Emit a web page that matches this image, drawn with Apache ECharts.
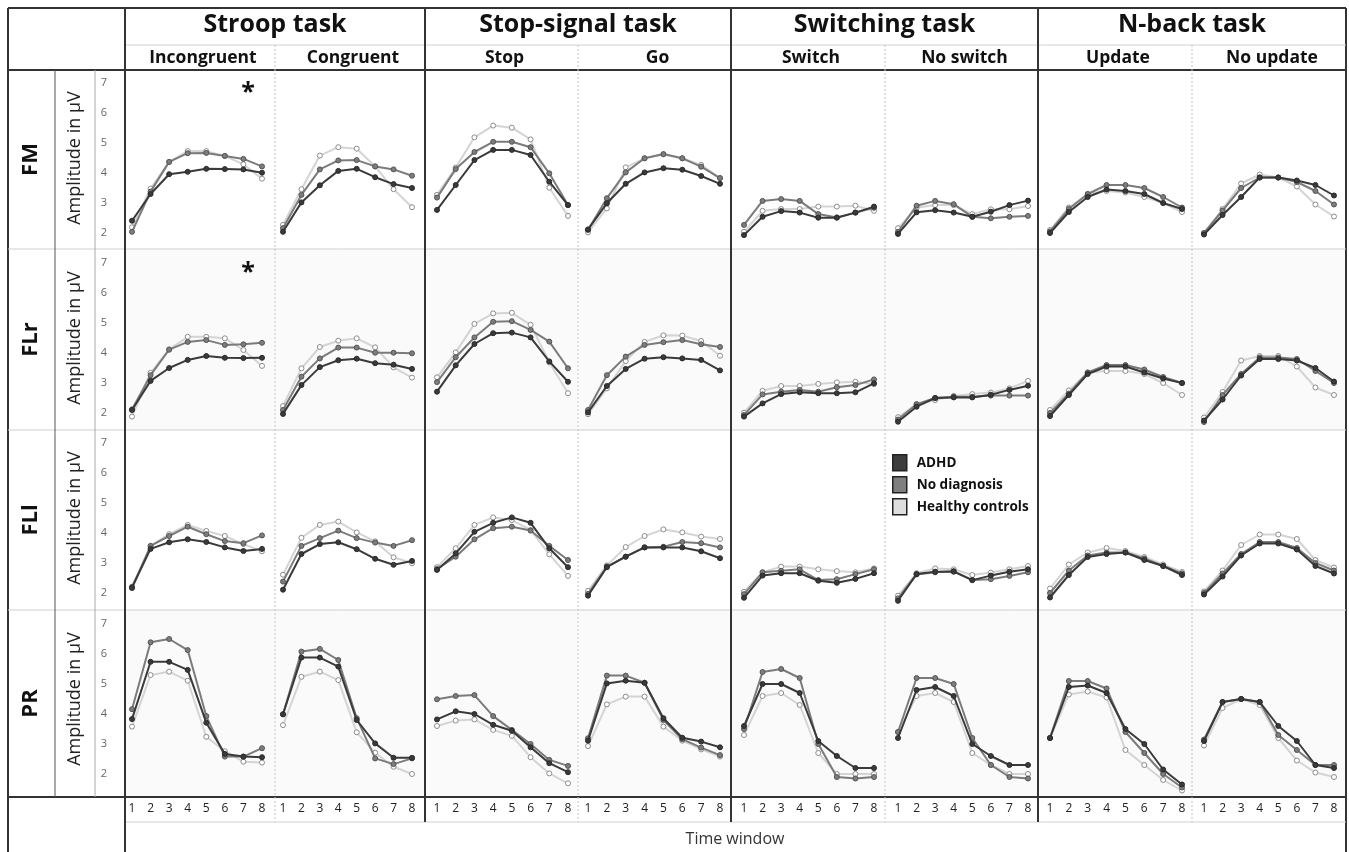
<!DOCTYPE html>
<html>
<head>
<meta charset="utf-8">
<script src="https://cdn.jsdelivr.net/npm/echarts@6/dist/echarts.min.js"></script>
<style>
  html, body { margin: 0; padding: 0; background: #fff; }
  #chart { width: 1349px; height: 852px; }
</style>
</head>
<body>
<div id="chart"></div>
<script>
  const tasks = ['Stroop task', 'Stop-signal task', 'Switching task', 'N-back task']
  const conditions = ['Incongruent', 'Congruent', 'Stop', 'Go', 'Switch', 'No switch', 'Update', 'No update']
  const regions = ['FM', 'FLr', 'FLl', 'PR']
  const groups = ['ADHD', 'No diagnosis', 'Healthy controls']
  const timeWindows = ['1', '2', '3', '4', '5', '6', '7', '8']

  // rows: FM, FLr, FLl, PR
  const incongruentAdhd = [[2.41, 3.30, 3.96, 4.04, 4.14, 4.13, 4.12, 4.01], [2.10, 3.07, 3.50, 3.77, 3.90, 3.84, 3.83, 3.84], [2.19, 3.47, 3.69, 3.79, 3.70, 3.52, 3.40, 3.47], [3.83, 5.74, 5.74, 5.47, 3.71, 2.67, 2.58, 2.56]]
  const incongruentNoDx = [[2.04, 3.38, 4.37, 4.66, 4.67, 4.57, 4.47, 4.22], [2.12, 3.26, 4.11, 4.37, 4.43, 4.27, 4.29, 4.34], [2.16, 3.57, 3.90, 4.21, 3.96, 3.73, 3.66, 3.92], [4.16, 6.39, 6.50, 6.13, 3.93, 2.58, 2.58, 2.86]]
  const incongruentHc = [[2.19, 3.48, 4.37, 4.73, 4.73, 4.57, 4.29, 3.81], [1.88, 3.34, 4.12, 4.54, 4.54, 4.49, 4.10, 3.57], [2.21, 3.57, 3.96, 4.27, 4.07, 3.90, 3.63, 3.39], [3.58, 5.30, 5.41, 5.11, 3.24, 2.76, 2.41, 2.38]]

  const congruentAdhd = [[2.04, 3.02, 3.59, 4.07, 4.14, 3.86, 3.63, 3.50], [1.97, 2.93, 3.53, 3.76, 3.81, 3.66, 3.61, 3.47], [2.11, 3.30, 3.63, 3.69, 3.46, 3.14, 2.94, 3.07], [3.99, 5.88, 5.88, 5.58, 3.80, 3.02, 2.54, 2.54]]
  const congruentNoDx = [[2.16, 3.27, 4.12, 4.42, 4.43, 4.22, 4.12, 3.91], [2.10, 3.21, 3.82, 4.18, 4.18, 4.01, 4.01, 3.99], [2.38, 3.57, 3.83, 4.08, 3.83, 3.68, 3.57, 3.76], [3.99, 6.08, 6.17, 5.80, 3.86, 2.52, 2.33, 2.52]]
  const congruentHc = [[2.27, 3.46, 4.58, 4.86, 4.81, 4.22, 3.46, 2.86], [2.23, 3.49, 4.20, 4.41, 4.49, 4.19, 3.52, 3.18], [2.61, 3.84, 4.27, 4.38, 4.02, 3.72, 3.19, 2.99], [3.63, 5.24, 5.41, 5.13, 3.39, 2.71, 2.24, 2.00]]

  const stopAdhd = [[2.77, 3.60, 4.43, 4.77, 4.77, 4.60, 3.71, 2.93], [2.71, 3.59, 4.30, 4.66, 4.68, 4.52, 3.72, 3.04], [2.77, 3.32, 4.04, 4.34, 4.52, 4.34, 3.49, 2.86], [3.82, 4.09, 4.00, 3.64, 3.44, 2.89, 2.36, 2.06]]
  const stopNoDx = [[3.18, 4.13, 4.70, 5.04, 5.04, 4.86, 3.99, 2.93], [3.03, 3.86, 4.52, 5.04, 5.06, 4.77, 4.38, 3.49], [2.80, 3.21, 3.79, 4.16, 4.21, 4.08, 3.57, 3.10], [4.49, 4.60, 4.63, 3.93, 3.47, 3.00, 2.47, 2.27]]
  const stopHc = [[3.27, 4.18, 5.19, 5.58, 5.51, 5.12, 3.51, 2.57], [3.19, 4.02, 4.97, 5.32, 5.34, 4.94, 3.69, 2.66], [2.86, 3.49, 4.27, 4.52, 4.43, 4.10, 3.29, 2.57], [3.60, 3.78, 3.82, 3.47, 3.27, 2.56, 2.02, 1.69]]

  const goAdhd = [[2.12, 2.99, 3.64, 4.02, 4.16, 4.11, 3.90, 3.64], [2.02, 2.90, 3.47, 3.81, 3.86, 3.82, 3.77, 3.42], [1.91, 2.86, 3.21, 3.52, 3.52, 3.52, 3.39, 3.16], [3.11, 5.02, 5.11, 5.04, 3.86, 3.21, 3.08, 2.89]]
  const goNoDx = [[2.10, 3.16, 4.02, 4.49, 4.63, 4.49, 4.21, 3.83], [2.10, 3.26, 3.88, 4.27, 4.36, 4.43, 4.29, 4.20], [1.97, 2.88, 3.21, 3.52, 3.54, 3.70, 3.66, 3.52], [3.19, 5.28, 5.28, 5.04, 3.80, 3.16, 2.88, 2.63]]
  const goHc = [[2.02, 2.82, 4.19, 4.49, 4.62, 4.49, 4.27, 3.83], [1.96, 2.82, 3.73, 4.37, 4.59, 4.58, 4.40, 3.91], [2.07, 2.92, 3.53, 3.90, 4.12, 4.02, 3.88, 3.80], [2.93, 4.32, 4.58, 4.58, 3.58, 3.11, 2.82, 2.58]]

  const switchAdhd = [[1.93, 2.54, 2.73, 2.68, 2.51, 2.51, 2.68, 2.88], [1.88, 2.32, 2.63, 2.69, 2.66, 2.66, 2.69, 2.99], [1.84, 2.58, 2.66, 2.66, 2.41, 2.34, 2.47, 2.66], [3.60, 5.00, 5.00, 4.70, 3.10, 2.60, 2.20, 2.20]]
  const switchNoDx = [[2.27, 3.07, 3.13, 3.07, 2.63, 2.52, 2.68, 2.84], [1.93, 2.62, 2.71, 2.77, 2.71, 2.86, 2.93, 3.12], [1.96, 2.69, 2.74, 2.79, 2.43, 2.46, 2.63, 2.79], [3.50, 5.40, 5.50, 5.20, 3.00, 1.90, 1.85, 1.90]]
  const switchHc = [[2.04, 2.74, 2.80, 2.80, 2.88, 2.88, 2.91, 2.74], [2.01, 2.74, 2.90, 2.90, 2.97, 3.02, 3.04, 2.96], [2.04, 2.69, 2.88, 2.88, 2.79, 2.73, 2.69, 2.82], [3.30, 4.60, 4.70, 4.30, 2.70, 2.00, 2.00, 2.00]]

  const noSwitchAdhd = [[1.97, 2.69, 2.76, 2.68, 2.54, 2.71, 2.93, 3.08], [1.71, 2.21, 2.50, 2.52, 2.52, 2.61, 2.77, 2.91], [1.74, 2.63, 2.71, 2.71, 2.43, 2.58, 2.71, 2.79], [3.20, 4.80, 4.90, 4.60, 3.00, 2.60, 2.30, 2.30]]
  const noSwitchNoDx = [[2.04, 2.91, 3.07, 2.96, 2.54, 2.49, 2.54, 2.57], [1.78, 2.29, 2.50, 2.54, 2.54, 2.58, 2.58, 2.58], [1.82, 2.62, 2.69, 2.73, 2.43, 2.46, 2.57, 2.69], [3.40, 5.20, 5.20, 5.00, 3.20, 2.30, 1.90, 1.85]]
  const noSwitchHc = [[2.16, 2.84, 2.93, 2.93, 2.63, 2.79, 2.79, 2.90], [1.86, 2.30, 2.43, 2.57, 2.63, 2.68, 2.82, 3.07], [1.91, 2.66, 2.82, 2.79, 2.60, 2.68, 2.79, 2.90], [3.40, 4.60, 4.70, 4.40, 2.70, 2.30, 2.00, 2.00]]

  const updateAdhd = [[2.00, 2.70, 3.20, 3.45, 3.40, 3.30, 3.00, 2.80], [1.90, 2.60, 3.30, 3.55, 3.55, 3.35, 3.15, 3.00], [1.85, 2.60, 3.20, 3.30, 3.35, 3.10, 2.90, 2.60], [3.20, 4.90, 4.95, 4.70, 3.50, 3.00, 2.15, 1.65]]
  const updateNoDx = [[2.05, 2.80, 3.30, 3.60, 3.60, 3.50, 3.20, 2.85], [2.00, 2.65, 3.35, 3.60, 3.60, 3.45, 3.20, 3.00], [2.00, 2.75, 3.25, 3.35, 3.35, 3.15, 2.90, 2.65], [3.20, 5.10, 5.10, 4.85, 3.40, 2.70, 2.00, 1.55]]
  const updateHc = [[2.10, 2.85, 3.30, 3.40, 3.35, 3.20, 3.00, 2.70], [2.10, 2.75, 3.35, 3.40, 3.40, 3.30, 3.00, 2.60], [2.15, 2.95, 3.35, 3.50, 3.40, 3.20, 2.95, 2.70], [3.20, 4.65, 4.75, 4.55, 2.80, 2.30, 1.80, 1.45]]

  const noUpdateAdhd = [[1.95, 2.60, 3.20, 3.85, 3.85, 3.75, 3.60, 3.25], [1.75, 2.45, 3.25, 3.80, 3.80, 3.75, 3.50, 3.05], [1.95, 2.55, 3.25, 3.65, 3.65, 3.45, 2.90, 2.65], [3.10, 4.40, 4.50, 4.40, 3.60, 3.10, 2.30, 2.20]]
  const noUpdateNoDx = [[2.00, 2.75, 3.50, 3.85, 3.85, 3.70, 3.40, 2.95], [1.70, 2.60, 3.30, 3.85, 3.85, 3.80, 3.40, 3.00], [2.00, 2.65, 3.30, 3.70, 3.70, 3.50, 3.00, 2.75], [3.15, 4.40, 4.50, 4.40, 3.30, 2.80, 2.30, 2.30]]
  const noUpdateHc = [[2.00, 2.80, 3.65, 3.95, 3.85, 3.55, 2.95, 2.55], [1.85, 2.70, 3.75, 3.90, 3.90, 3.55, 2.85, 2.60], [2.05, 2.75, 3.60, 3.95, 3.95, 3.80, 3.10, 2.85], [2.95, 4.20, 4.50, 4.30, 3.20, 2.45, 2.05, 1.90]]

  const panelData = [
    [incongruentAdhd, incongruentNoDx, incongruentHc],
    [congruentAdhd, congruentNoDx, congruentHc],
    [stopAdhd, stopNoDx, stopHc],
    [goAdhd, goNoDx, goHc],
    [switchAdhd, switchNoDx, switchHc],
    [noSwitchAdhd, noSwitchNoDx, noSwitchHc],
    [updateAdhd, updateNoDx, updateHc],
    [noUpdateAdhd, noUpdateNoDx, noUpdateHc]
  ]

  // layout (px)
  const font = 'Open Sans'
  const colEdges = [125, 275, 425, 578, 731, 885, 1038, 1192, 1346]
  const firstX = [132, 283, 437, 588, 744, 898, 1050, 1204]
  const lastX = [262, 412, 568, 720, 874, 1028, 1182, 1334]
  const rowEdges = [70, 249, 430, 610, 797]
  const rowTop = [83, 263, 443, 624]
  const plotH = 150

  const groupStyle = [
    {line: '#3a3a3a', fill: '#3a3a3a', border: '#2a2a2a'},
    {line: '#7b7b7b', fill: '#7d7d7d', border: '#555'},
    {line: '#d4d4d4', fill: '#ffffff', border: '#8c8c8c'}
  ]
  const legendFill = ['#3d3d3d', '#7f7f7f', '#dedede']

  let grids = [], xAxes = [], yAxes = [], series = []
  for (let r = 0; r < 4; r++) {
    for (let c = 0; c < 8; c++) {
      const idx = r * 8 + c
      grids.push({left: firstX[c], width: lastX[c] - firstX[c], top: rowTop[r], height: plotH})
      xAxes.push({
        gridIndex: idx, type: 'category', data: timeWindows, boundaryGap: false,
        axisLine: {show: false}, axisTick: {show: false}, splitLine: {show: false},
        axisLabel: {show: r === 3, interval: 0, margin: 29, color: '#222', fontSize: 12, fontFamily: font}
      })
      yAxes.push({
        gridIndex: idx, type: 'value', min: 2, max: 7, interval: 1,
        axisLine: {show: false}, axisTick: {show: false}, splitLine: {show: false},
        axisLabel: {show: c === 0, margin: 25, color: '#666', fontSize: 11, fontFamily: font}
      })
      groups.forEach((g, gi) => {
        const s = groupStyle[gi]
        series.push({
          type: 'line', name: g, xAxisIndex: idx, yAxisIndex: idx,
          data: panelData[c][gi][r],
          clip: false, silent: true,
          symbol: 'circle', symbolSize: 5,
          lineStyle: {color: s.line, width: 2},
          itemStyle: {color: s.fill, borderColor: s.border, borderWidth: 1},
          z: 3 + (2 - gi)
        })
      })
    }
  }

  // table lines and labels
  const els = []
  const line = (x1, y1, x2, y2, stroke, w, dash) => els.push({
    type: 'line', z: 1, silent: true,
    shape: {x1, y1, x2, y2},
    style: {stroke, lineWidth: w, lineDash: dash || null}
  })
  const text = (x, y, str, size, weight, color, rot) => els.push({
    type: 'text', x, y, rotation: rot || 0, z: 2, silent: true,
    style: {
      text: str, fontSize: size, fontWeight: weight, fontFamily: font, fill: color,
      align: 'center', verticalAlign: 'middle', textAlign: 'center', textVerticalAlign: 'middle'
    }
  })

  // shaded rows
  ;[1, 3].forEach(r => els.push({
    type: 'rect', z: 0, silent: true,
    shape: {x: 125, y: rowEdges[r], width: 1221, height: rowEdges[r + 1] - rowEdges[r]},
    style: {fill: '#fafafa'}
  }))

  line(8, 8, 1346, 8, '#333', 2)
  line(8, 8, 8, 852, '#333', 2)
  line(1346, 8, 1346, 852, '#333', 2)
  line(125, 45, 1346, 45, '#d0d0d0', 1)
  line(8, 70, 1346, 70, '#333', 2)
  ;[249, 430, 610].forEach(y => line(8, y, 1346, y, '#cfcfcf', 1))
  line(8, 797, 1346, 797, '#333', 2)
  line(125, 822, 1346, 822, '#d0d0d0', 1)
  line(55, 70, 55, 797, '#555', 1)
  line(95, 70, 95, 797, '#aaa', 1)
  line(125, 8, 125, 852, '#333', 2)
  ;[425, 731, 1038].forEach(x => line(x, 8, x, 822, '#333', 2))
  ;[275, 578, 885, 1192].forEach(x => line(x, 45, x, 822, '#c4c4c4', 1, [2, 2]))

  tasks.forEach((t, i) => text((colEdges[i * 2] + colEdges[i * 2 + 2]) / 2, 25, t, 25, 'bold', '#111'))
  conditions.forEach((t, i) => text((colEdges[i] + colEdges[i + 1]) / 2 + 3, 58, t, 17.5, 'bold', '#111'))
  regions.forEach((t, r) => {
    const cy = (rowEdges[r] + rowEdges[r + 1]) / 2
    text(31, cy, t, 22, 'bold', '#111', Math.PI / 2)
    text(75, (rowTop[r] + rowTop[r] + plotH) / 2, 'Amplitude in µV', 18, 'normal', '#222', Math.PI / 2)
  })
  text(735, 839, 'Time window', 16, 'normal', '#333')
  text(248, 93, '*', 25, 'bold', '#111')
  text(248, 273, '*', 25, 'bold', '#111')

  const chart = echarts.init(document.getElementById('chart'))
  chart.setOption({
    animation: false,
    backgroundColor: '#fff',
    legend: {
      left: 892, top: 454, orient: 'vertical', padding: 0,
      itemWidth: 14, itemHeight: 16, itemGap: 4.5,
      selectedMode: false,
      textStyle: {fontFamily: font, fontWeight: 'bold', fontSize: 13.5, color: '#111', lineHeight: 16, padding: [0, 0, 0, 5]},
      data: groups.map((g, i) => ({
        name: g, icon: 'rect',
        itemStyle: {color: legendFill[i], borderColor: '#222', borderWidth: 1.5}
      }))
    },
    graphic: {elements: els},
    grid: grids,
    xAxis: xAxes,
    yAxis: yAxes,
    series: series
  })
</script>
</body>
</html>
